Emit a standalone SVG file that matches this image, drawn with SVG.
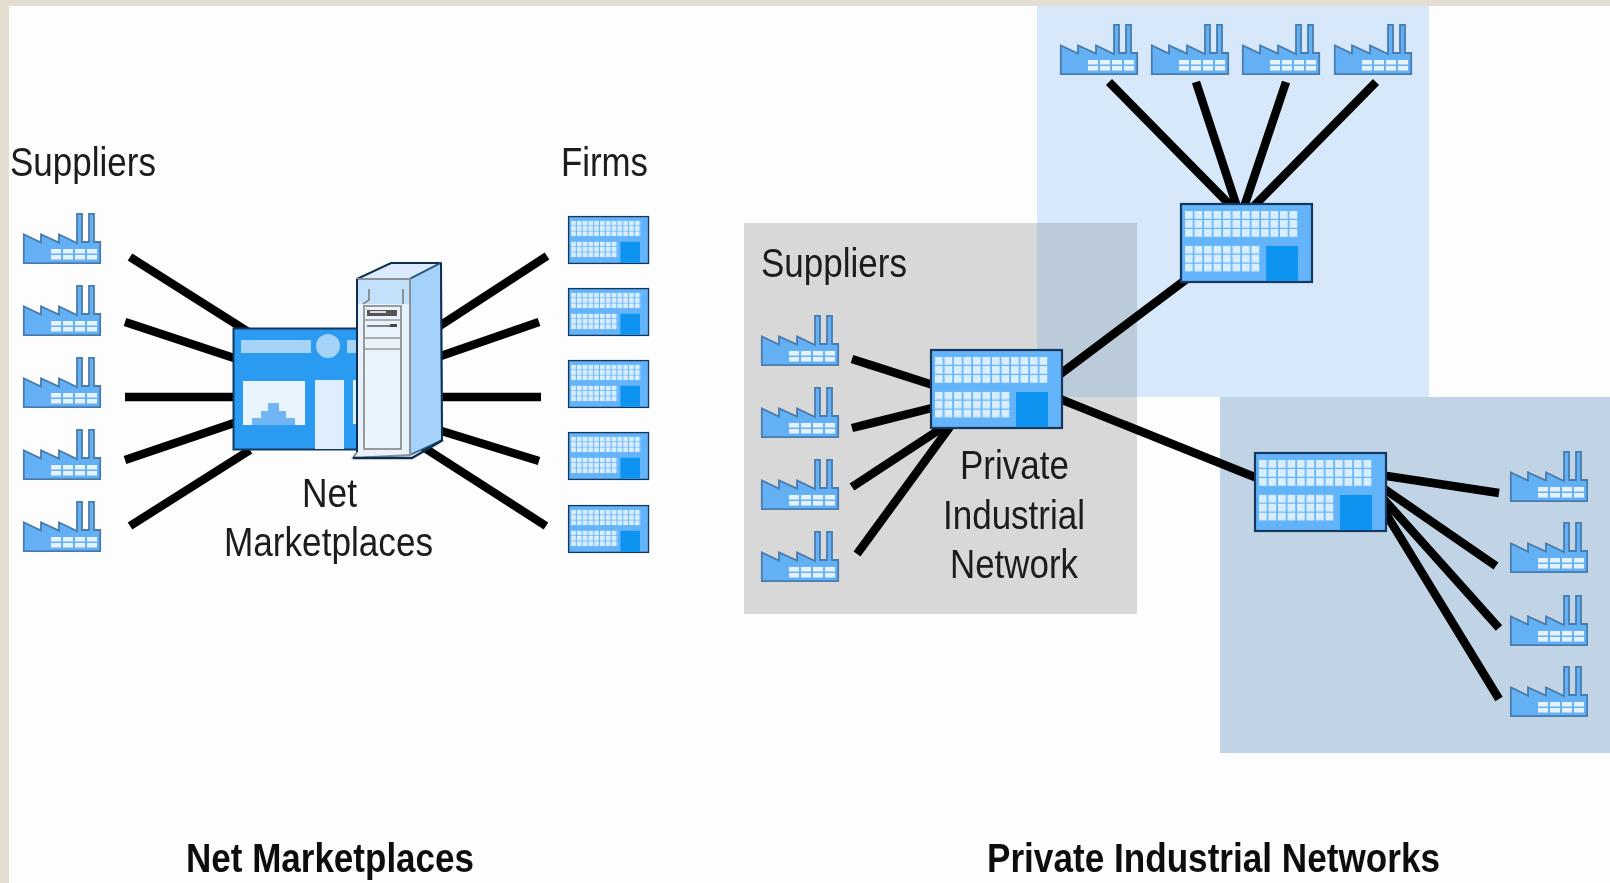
<svg xmlns="http://www.w3.org/2000/svg" xmlns:xlink="http://www.w3.org/1999/xlink" width="1610" height="883" viewBox="0 0 1610 883">
<style>
.t{font-family:"Liberation Sans",Arial,sans-serif;font-size:40px;fill:#1a1a1a}
.b{font-family:"Liberation Sans",Arial,sans-serif;font-size:40px;font-weight:bold;fill:#111}
.c{stroke:#000;stroke-width:8.500;fill:none;stroke-linecap:butt}
</style>
<defs>
<filter id="soft" x="0" y="0" width="100%" height="100%"><feGaussianBlur stdDeviation="0.55"/></filter>
<g id="factory">
<path d="M0.8 50.200V21.500L18 29.500V21.500L36 29.500V21.500L54 30V0.800H59V29H66V0.800H71V29H77.200V50.200Z" fill="#64b0f5" stroke="#4a7cae" stroke-width="1.800"/>
<g fill="#e6f3fe">
<rect x="28" y="36" width="10" height="4.500"/><rect x="40" y="36" width="10" height="4.500"/><rect x="52" y="36" width="10" height="4.500"/><rect x="64" y="36" width="10" height="4.500"/>
<rect x="28" y="42" width="10" height="4.500"/><rect x="40" y="42" width="10" height="4.500"/><rect x="52" y="42" width="10" height="4.500"/><rect x="64" y="42" width="10" height="4.500"/>
</g>
</g>
<pattern id="win" width="9.500" height="9" patternUnits="userSpaceOnUse" x="5" y="8"><rect width="7.800" height="7.800" fill="#d8eeff"/></pattern>
<g id="building">
<rect x="1" y="1" width="131" height="78" fill="#64b4fa" stroke="#12395f" stroke-width="2.200"/>
<rect x="5" y="8" width="114" height="26" fill="url(#win)"/>
<g transform="translate(0,34.700)"><rect x="5" y="8" width="76" height="26" fill="url(#win)"/></g>
<rect x="86" y="43" width="32" height="35" fill="#0a94f0"/>
</g>
</defs>
<rect width="1610" height="883" fill="#e3ddd2"/>
<rect x="9" y="6" width="1601" height="877" fill="#fdfdfd"/>
<g id="zones">
<rect x="1037" y="6" width="392" height="391" fill="#d6e8f9"/>
<rect x="1220" y="397" width="390" height="356" fill="#c1d4e6"/>
<rect x="744" y="223" width="393" height="391" fill="#d8d8d8"/>
<rect x="1037" y="223" width="100" height="174" fill="#bccbd9"/>
</g>
<g filter="url(#soft)">
<g id="connectors" class="c">
<path d="M130 257L250 333M125 322L240 360M125 397H240M125 460L240 421M130 526L250 450"/>
<path d="M435 329L547 256M435 358L539 322M435 397H541M435 429L539 461M420 445L546 526"/>
<path d="M852 359L936 386M852 428L936 407M852 487L945 426M857 554L952 424"/>
<path d="M1055 378L1192 275M1055 397L1262 480"/>
<path d="M1109 82L1232 207M1196 82L1237 207M1286 82L1244 207M1376 82L1253 207"/>
<path d="M1380 475L1499 493M1380 486L1496 566M1380 495L1499 628M1380 504L1499 699"/>
</g>
<g id="net-supplier-1"><use xlink:href="#factory" href="#factory" x="23" y="213"/></g>
<g id="net-supplier-2"><use xlink:href="#factory" href="#factory" x="23" y="285"/></g>
<g id="net-supplier-3"><use xlink:href="#factory" href="#factory" x="23" y="357"/></g>
<g id="net-supplier-4"><use xlink:href="#factory" href="#factory" x="23" y="429"/></g>
<g id="net-supplier-5"><use xlink:href="#factory" href="#factory" x="23" y="501"/></g>
<g id="firm-1"><use xlink:href="#building" href="#building" transform="translate(568,216) scale(.61,.6)"/></g>
<g id="firm-2"><use xlink:href="#building" href="#building" transform="translate(568,288) scale(.61,.6)"/></g>
<g id="firm-3"><use xlink:href="#building" href="#building" transform="translate(568,360) scale(.61,.6)"/></g>
<g id="firm-4"><use xlink:href="#building" href="#building" transform="translate(568,432) scale(.61,.6)"/></g>
<g id="firm-5"><use xlink:href="#building" href="#building" transform="translate(568,505) scale(.61,.6)"/></g>
<g id="net-marketplace">
<rect x="233.500" y="328.500" width="125" height="121" fill="#2b9bf0" stroke="#0e3a63" stroke-width="2"/>
<rect x="241" y="340" width="70" height="13" fill="#a6d3f8"/>
<circle cx="328" cy="346" r="12" fill="#a6d3f8"/>
<rect x="347" y="340" width="10" height="13" fill="#a6d3f8"/>
<rect x="243" y="381" width="62" height="44" fill="#eaf4fd"/>
<path d="M252 425V418H261V411H268V403H279V411H286V418H295V425Z" fill="#6fb6f5"/>
<rect x="315" y="380" width="29" height="69" fill="#dfeefc"/>
<rect x="353" y="380" width="5" height="44" fill="#dfeefc"/>
<path d="M357 279L391 263H441L410 279Z" fill="#dcebfb" stroke="#0e2f50" stroke-width="2"/>
<path d="M410 279L441 263L442 440L410 455Z" fill="#a5d2f9" stroke="#2f5f8f" stroke-width="1.500"/>
<path d="M441 263L442 440" fill="none" stroke="#0e2f50" stroke-width="2"/>
<path d="M357 279H410V455L353 458L357 452Z" fill="#e8f2fc" stroke="#8a9098" stroke-width="2"/>
<path d="M357 279V452" fill="none" stroke="#0e2f50" stroke-width="2"/>
<path d="M353 458H412L443 440" fill="none" stroke="#0e2f50" stroke-width="2.500"/>
<rect x="358" y="280" width="51" height="24" fill="#c3e1fb"/>
<path d="M363 304L369 300V289M403 304L403 300V289" fill="none" stroke="#777" stroke-width="1.500"/>
<rect x="364" y="306" width="37" height="143" fill="#e9f3fc" stroke="#999" stroke-width="2"/>
<path d="M364 320H401M364 338H401M364 349H401" stroke="#999" stroke-width="1.500"/>
<rect x="367" y="310" width="30" height="6" fill="#555"/>
<rect x="370" y="311" width="16" height="2" fill="#ddd"/>
<path d="M367 326H397" stroke="#333" stroke-width="1.200"/>
<rect x="390" y="324" width="7" height="3" fill="#444"/>
</g>
<g id="pin-hub"><use xlink:href="#building" href="#building" x="930" y="349"/></g>
<g id="pin-top-firm"><use xlink:href="#building" href="#building" x="1180" y="203"/></g>
<g id="pin-right-firm"><use xlink:href="#building" href="#building" x="1254" y="452"/></g>
<g id="pin-supplier-1"><use xlink:href="#factory" href="#factory" x="761" y="315"/></g>
<g id="pin-supplier-2"><use xlink:href="#factory" href="#factory" x="761" y="387"/></g>
<g id="pin-supplier-3"><use xlink:href="#factory" href="#factory" x="761" y="459"/></g>
<g id="pin-supplier-4"><use xlink:href="#factory" href="#factory" x="761" y="531"/></g>
<g id="top-supplier-1"><use xlink:href="#factory" href="#factory" x="1060" y="24"/></g>
<g id="top-supplier-2"><use xlink:href="#factory" href="#factory" x="1151" y="24"/></g>
<g id="top-supplier-3"><use xlink:href="#factory" href="#factory" x="1242" y="24"/></g>
<g id="top-supplier-4"><use xlink:href="#factory" href="#factory" x="1334" y="24"/></g>
<g id="right-supplier-1"><use xlink:href="#factory" href="#factory" x="1510" y="451"/></g>
<g id="right-supplier-2"><use xlink:href="#factory" href="#factory" x="1510" y="522"/></g>
<g id="right-supplier-3"><use xlink:href="#factory" href="#factory" x="1510" y="595"/></g>
<g id="right-supplier-4"><use xlink:href="#factory" href="#factory" x="1510" y="666"/></g>
<g id="labels">
<text class="t" x="10" y="176" textLength="146" lengthAdjust="spacingAndGlyphs">Suppliers</text>
<text class="t" x="561" y="176" textLength="87" lengthAdjust="spacingAndGlyphs">Firms</text>
<text class="t" x="302" y="507" textLength="55" lengthAdjust="spacingAndGlyphs">Net</text>
<text class="t" x="224" y="556" textLength="209" lengthAdjust="spacingAndGlyphs">Marketplaces</text>
<text class="t" x="761" y="277" textLength="146" lengthAdjust="spacingAndGlyphs">Suppliers</text>
<text class="t" x="960" y="479" textLength="109" lengthAdjust="spacingAndGlyphs">Private</text>
<text class="t" x="943" y="529" textLength="142" lengthAdjust="spacingAndGlyphs">Industrial</text>
<text class="t" x="950" y="578" textLength="128" lengthAdjust="spacingAndGlyphs">Network</text>
<text class="b" x="186" y="872" textLength="288" lengthAdjust="spacingAndGlyphs">Net Marketplaces</text>
<text class="b" x="987" y="872" textLength="453" lengthAdjust="spacingAndGlyphs">Private Industrial Networks</text>
</g>
</g>
</svg>
